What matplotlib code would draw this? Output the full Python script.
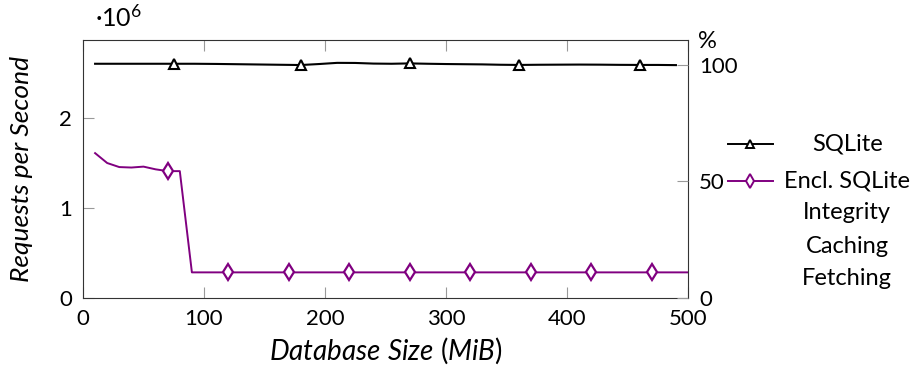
import matplotlib
matplotlib.use("Agg")
import matplotlib.pyplot as plt
from matplotlib.lines import Line2D

plt.rcParams["font.family"] = ["Lato", "DejaVu Sans"]
plt.rcParams["font.size"] = 16
plt.rcParams["mathtext.fontset"] = "custom"
plt.rcParams["mathtext.rm"] = "Lato"
plt.rcParams["mathtext.it"] = "Lato:italic"

# database size (MiB) and requests per second (x 1e6)
sqlite_x = [10, 22, 35, 48, 60, 68, 75, 92, 110, 128, 145, 162, 180, 195, 210,
            225, 240, 255, 270, 285, 300, 315, 330, 345, 360, 377, 393, 410,
            427, 443, 460, 475, 490]
sqlite_y = [2.603, 2.603, 2.603, 2.603, 2.603, 2.603, 2.603, 2.603, 2.601,
            2.598, 2.595, 2.592, 2.589, 2.600, 2.613, 2.612, 2.605, 2.603,
            2.607, 2.603, 2.600, 2.598, 2.596, 2.592, 2.590, 2.592, 2.593,
            2.594, 2.593, 2.591, 2.590, 2.590, 2.588]

encl_x = list(range(10, 510, 10))
encl_y = [1.61, 1.50, 1.455, 1.45, 1.46, 1.43, 1.41, 1.41] + [0.285] * 42

x_ticks = [0, 100, 200, 300, 400, 500]
y_ticks = [0, 1, 2]
pct_ticks = [0, 50, 100]

legend_labels = ["SQLite", "Encl. SQLite", "Integrity", "Caching", "Fetching"]

fig = plt.figure(figsize=(9.13, 3.76), dpi=100)
ax = fig.add_axes([0.0909, 0.2074, 0.6627, 0.6862])

ax.plot(sqlite_x, sqlite_y, color="black", lw=1.5, marker="^", ms=7,
        mfc="white", mew=1.5, markevery=(6, 6))
ax.plot(encl_x, encl_y, color="purple", lw=1.4, marker="d", ms=8,
        mfc="white", mew=1.6, markevery=(6, 5))

ax.set_xlim(0, 500)
ax.set_ylim(0, 2.867)
ax.set_xticks(x_ticks)
ax.set_yticks(y_ticks)
ax.tick_params(direction="in", length=8, width=0.8, color="0.6",
               top=True, pad=8)
for s in ax.spines.values():
    s.set_color("0.2")
    s.set_linewidth(0.8)

ax.text(0.02, 1.035, "·10$^{6}$", transform=ax.transAxes, ha="left",
        va="bottom", fontsize=18)
ax.set_ylabel("Requests per Second", fontstyle="italic", fontsize=19)
ax.yaxis.set_label_coords(-0.083, 0.5)
ax.set_xlabel(r"$\mathit{Database\ Size}\ (\mathit{MiB})$", fontsize=20)
ax.xaxis.set_label_coords(0.5, -0.145)

ax2 = ax.twinx()
ax2.set_ylim(0, 110.5)
ax2.set_yticks(pct_ticks)
ax2.tick_params(direction="in", length=8, width=0.8, color="0.6", pad=8)
for s in ax2.spines.values():
    s.set_visible(False)
ax2.text(1.016, 0.955, "%", transform=ax.transAxes, ha="left", va="bottom",
         fontsize=17)

# legend, right of the plot, texts centred in their column
row_y = [0.617, 0.519, 0.434, 0.344, 0.258]
styles = [("black", "^", 6), ("purple", "d", 7), None, None, None]
for label, y, st in zip(legend_labels, row_y, styles):
    if st is not None:
        color, marker, ms = st
        fig.add_artist(Line2D([0.797, 0.847], [y, y], color=color, lw=1.4,
                              transform=fig.transFigure))
        fig.add_artist(Line2D([0.822], [y], color=color, marker=marker, ms=ms,
                              mfc="white", mew=1.4, transform=fig.transFigure))
    fig.text(0.928, y, label, ha="center", va="center", fontsize=17)

fig.savefig("out.png", dpi=100)
